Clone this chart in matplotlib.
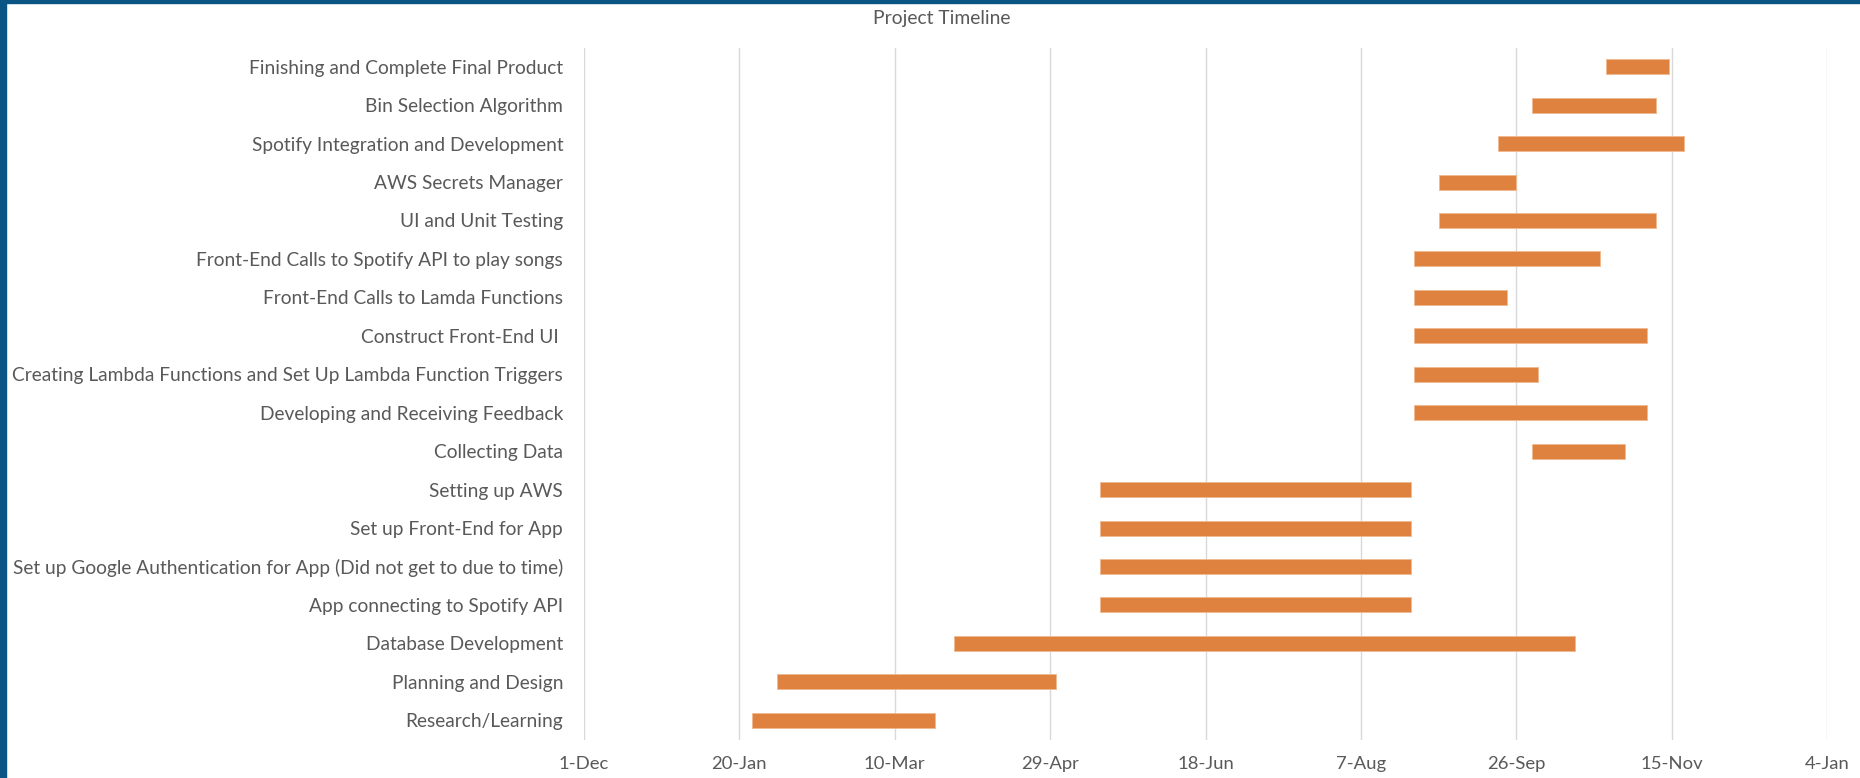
import datetime as dt

import matplotlib
matplotlib.use("Agg")
import matplotlib.pyplot as plt
import matplotlib.dates as mdates
from matplotlib.patches import Rectangle

# Tasks, top to bottom as they appear in the chart
tasks = [
    "Finishing and Complete Final Product",
    "Bin Selection Algorithm",
    "Spotify Integration and Development",
    "AWS Secrets Manager",
    "UI and Unit Testing",
    "Front-End Calls to Spotify API to play songs",
    "Front-End Calls to Lamda Functions",
    "Construct Front-End UI ",
    "Creating Lambda Functions and Set Up Lambda Function Triggers",
    "Developing and Receiving Feedback",
    "Collecting Data",
    "Setting up AWS",
    "Set up Front-End for App",
    "Set up Google Authentication for App (Did not get to due to time)",
    "App connecting to Spotify API",
    "Database Development",
    "Planning and Design",
    "Research/Learning",
]

start_dates = [
    "2020-10-25", "2020-10-01", "2020-09-20", "2020-09-01", "2020-09-01",
    "2020-08-24", "2020-08-24", "2020-08-24", "2020-08-24", "2020-08-24",
    "2020-10-01", "2020-05-15", "2020-05-15", "2020-05-15", "2020-05-15",
    "2020-03-29", "2020-02-01", "2020-01-24",
]

end_dates = [
    "2020-11-14", "2020-11-10", "2020-11-19", "2020-09-26", "2020-11-10",
    "2020-10-23", "2020-09-23", "2020-11-07", "2020-10-03", "2020-11-07",
    "2020-10-31", "2020-08-23", "2020-08-23", "2020-08-23", "2020-08-23",
    "2020-10-15", "2020-05-01", "2020-03-23",
]

axis_start = "2019-12-01"
axis_end = "2021-01-04"
tick_step_days = 50

TEXT_COLOR = "#595959"
BAR_COLOR = "#E0823F"
GRID_COLOR = "#D9D9D9"
FRAME_COLOR = "#0B5585"

plt.rcParams["font.family"] = ["Lato", "DejaVu Sans"]

W, H = 1860, 778
fig = plt.figure(figsize=(W / 100, H / 100), dpi=100)
fig.patch.set_facecolor("white")

ax = fig.add_axes([584 / W, 1 - 739.5 / H, (1827 - 584) / W, (739.5 - 47.5) / H])

to_num = lambda s: mdates.date2num(dt.datetime.strptime(s, "%Y-%m-%d"))
starts = [to_num(s) for s in start_dates]
ends = [to_num(e) for e in end_dates]
durations = [e - s for s, e in zip(starts, ends)]
ypos = list(range(len(tasks)))

ax.barh(ypos, durations, left=starts, height=0.39, color=BAR_COLOR,
        edgecolor="#F0B890", linewidth=0.6, zorder=3)

x0, x1 = to_num(axis_start), to_num(axis_end)
ax.set_xlim(x0, x1)
ax.set_ylim(len(tasks) - 0.5, -0.5)

ticks = [x0 + i * tick_step_days for i in range(int((x1 - x0) // tick_step_days) + 1)]
ax.set_xticks(ticks)
ax.xaxis.set_major_formatter(mdates.DateFormatter("%-d-%b"))
ax.set_yticks(ypos)
ax.set_yticklabels(tasks)

ax.tick_params(axis="both", length=0, colors=TEXT_COLOR)
ax.tick_params(axis="x", pad=12, labelsize=13.3)
ax.tick_params(axis="y", pad=15, labelsize=13.8)

ax.grid(axis="x", color=GRID_COLOR, linewidth=1, zorder=0)
ax.set_axisbelow(True)
for sp in ax.spines.values():
    sp.set_visible(False)

fig.text(942 / W, 1 - 18.5 / H, "Project Timeline", ha="center", va="center",
         fontsize=13.9, color=TEXT_COLOR)

# dark blue frame on left and top edge
fig.patches.append(Rectangle((0, 0), 6 / W, 1, transform=fig.transFigure,
                             color=FRAME_COLOR, zorder=10))
fig.patches.append(Rectangle((0, 1 - 2.5 / H), 1, 2.5 / H, transform=fig.transFigure,
                             color=FRAME_COLOR, zorder=10))

fig.savefig("out.png", dpi=100)
